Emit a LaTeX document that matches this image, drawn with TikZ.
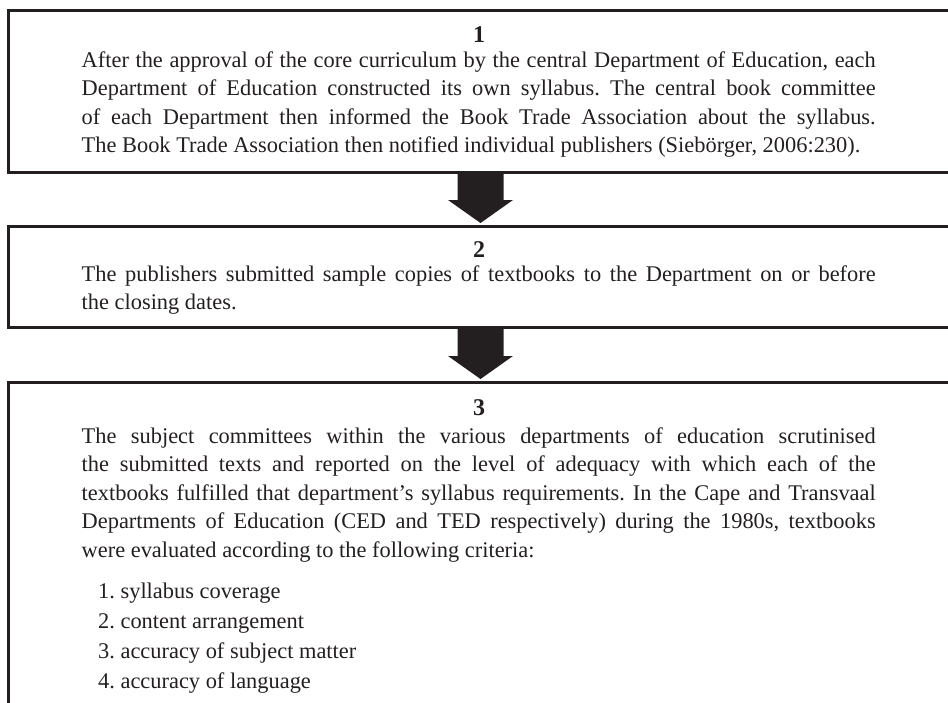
\documentclass[tikz,border=0pt]{standalone}
\usepackage{fontspec}
\setmainfont{Liberation Serif}
\usetikzlibrary{positioning}
\definecolor{ink}{HTML}{231F20}
\hbadness=10000
\frenchspacing

\begin{document}
\begin{tikzpicture}[x=1pt, y=-1pt,
    stage/.style={draw=ink, line width=2.7pt, inner sep=0pt, anchor=north west, minimum width=943.7pt},
    stagenum/.style={font=\fontsize{24pt}{28.5pt}\selectfont\bfseries, text=ink, inner sep=0pt, anchor=base},
    stagetext/.style={font=\fontsize{22.4pt}{28.5pt}\selectfont, text=ink, inner sep=0pt, anchor=base west, text width=794pt, align=justify},
    crit/.style={font=\fontsize{22.4pt}{28.5pt}\selectfont, text=ink, inner sep=0pt, anchor=base west},
    downarrow/.style={fill=ink}]

\path[use as bounding box, clip] (0,0) rectangle (948,702);

% 枠(各段階)
\foreach \i/\top/\h in {1/9.3/161.7, 2/225/101, 3/381/400} {
    \node[stage, minimum height=\h pt] (box\i) at (7.3,\top) {};
}

% 番号
\foreach \i/\y in {1/42, 2/257, 3/415} {
    \node[stagenum] (num\i) at (479.15,\y) {\i};
}

% 本文
\node[stagetext] (text1) at (81.5,67) {After the approval of the core curriculum by the central Department of Education, each\linebreak
Department of Education constructed its own syllabus. The central book committee\linebreak
of each Department then informed the Book Trade Association about the syllabus.\linebreak
The Book Trade Association then notified individual publishers (Siebörger, 2006:230).};

\node[stagetext] (text2) at (81.5,281) {The publishers submitted sample copies of textbooks to the Department on or before\linebreak
the closing dates.};

\node[stagetext] (text3) at (81.5,443) {The subject committees within the various departments of education scrutinised\linebreak
the submitted texts and reported on the level of adequacy with which each of the\linebreak
textbooks fulfilled that department’s syllabus requirements. In the Cape and Transvaal\linebreak
Departments of Education (CED and TED respectively) during the 1980s, textbooks\linebreak
were evaluated according to the following criteria:};

% 評価基準のリスト
\foreach \n/\y/\item in {
    1/598/{syllabus coverage},
    2/628.3/{content arrangement},
    3/658.6/{accuracy of subject matter},
    4/688.9/{accuracy of language}} {
    \node[crit] (crit\n) at (98,\y) {\n. \item};
}

% 矢印(段階から段階へ)
\foreach \from/\to in {box1/box2, box2/box3} {
    \fill[downarrow] ([xshift=-23pt]\from.south) -- ([xshift=-23pt,yshift=25pt]\to.north)
        -- ([xshift=-32.5pt,yshift=25pt]\to.north) -- ([yshift=2pt]\to.north)
        -- ([xshift=32.5pt,yshift=25pt]\to.north) -- ([xshift=23pt,yshift=25pt]\to.north)
        -- ([xshift=23pt]\from.south) -- cycle;
}
\end{tikzpicture}
\end{document}
